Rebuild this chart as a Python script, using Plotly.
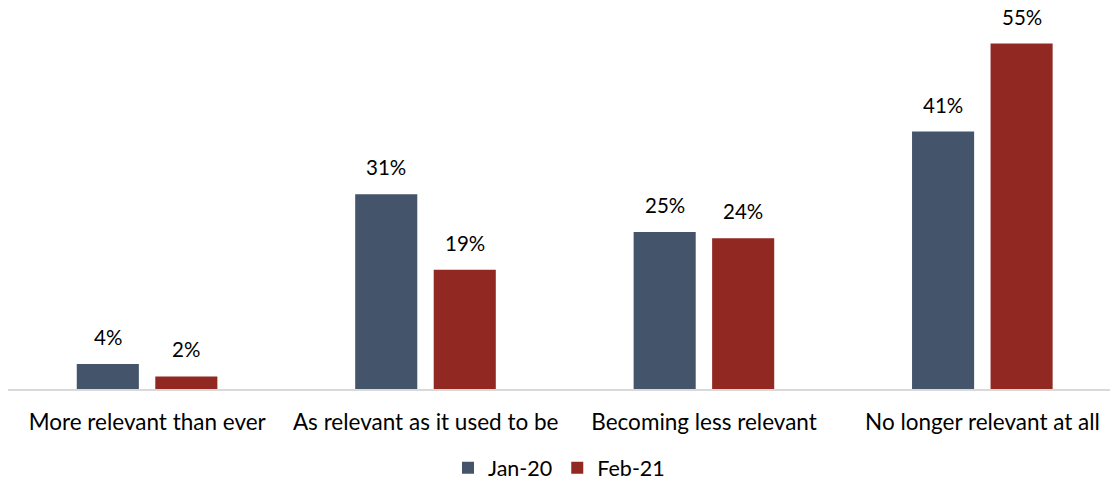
import plotly.graph_objects as go

categories = ["More relevant than ever", "As relevant as it used to be",
              "Becoming less relevant", "No longer relevant at all"]
jan20 = [4, 31, 25, 41]
feb21 = [2, 19, 24, 55]
series_names = ["Jan-20", "Feb-21"]
colors = ["#44546A", "#922822"]

FONT = "Lato, 'Open Sans', sans-serif"
BAR_W = 0.223
offsets = [-0.253, 0.029]

fig = go.Figure()
for name, vals, col, off in zip(series_names, [jan20, feb21], colors, offsets):
    fig.add_trace(go.Bar(
        x=list(range(len(categories))), y=vals, name=name,
        marker=dict(color=col, line=dict(width=0)),
        width=BAR_W, offset=off,
    ))
    for i, v in enumerate(vals):
        fig.add_annotation(
            x=i + off + BAR_W / 2, y=v, text=f"{v}%",
            showarrow=False, yanchor="bottom", yshift=13,
            font=dict(family=FONT, size=20.5, color="#000000"),
        )

fig.update_layout(
    width=1110, height=482,
    margin=dict(l=8, r=0, t=10, b=93, autoexpand=False),
    paper_bgcolor="white", plot_bgcolor="white",
    barmode="overlay",
    font=dict(family=FONT, size=22, color="#000000"),
    showlegend=True,
    legend=dict(orientation="h", x=0.5, xanchor="center", y=-0.208, yanchor="middle",
                font=dict(size=21.5), itemwidth=30, traceorder="normal"),
    xaxis=dict(
        range=[-0.5, 3.458], tickmode="array",
        tickvals=list(range(len(categories))), ticktext=categories,
        showgrid=False, zeroline=False, showline=True, linecolor="#D9D9D9",
        linewidth=1.5, ticks="", ticklabelstandoff=12, automargin=False,
        tickfont=dict(family=FONT, size=22.5),
    ),
    yaxis=dict(range=[0, 60.35], visible=False),
)

fig.write_html("out.html")
